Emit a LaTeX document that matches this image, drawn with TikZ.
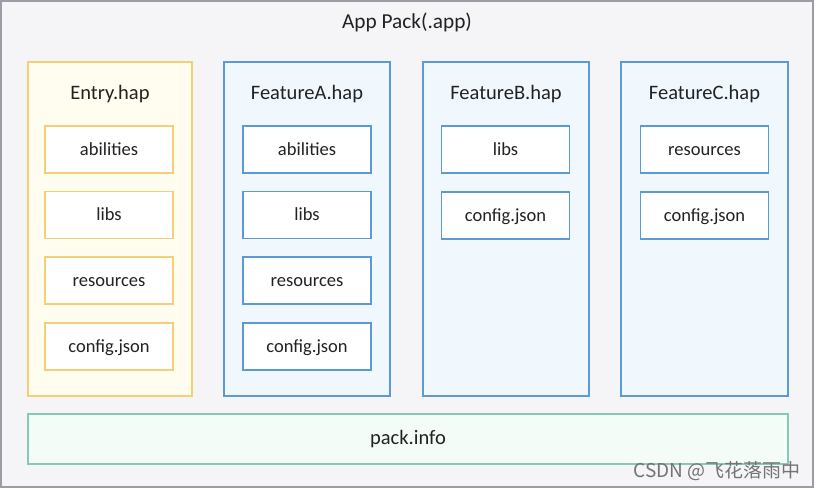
\documentclass[tikz,border=0pt]{standalone}
\usepackage{fontspec}
\setmainfont{Carlito}
\newfontfamily\cjkfont{Noto Sans CJK SC}
\definecolor{bgcol}{HTML}{F5F5F7}
\definecolor{framecol}{HTML}{9A9CA6}
\definecolor{entryline}{HTML}{F3CF78}
\definecolor{entryfill}{HTML}{FFFCF0}
\definecolor{featline}{HTML}{5B9BD5}
\definecolor{featfill}{HTML}{F0F8FE}
\definecolor{packline}{HTML}{86C9B4}
\definecolor{packfill}{HTML}{F4FCF8}
\definecolor{txt}{HTML}{222222}
\begin{document}
\begin{tikzpicture}[x=1pt,y=-1pt,
  every node/.style={text=txt},
  hapbox/.style={line width=1.2pt},
  entrybox/.style={hapbox,draw=entryline,fill=entryfill},
  featbox/.style={hapbox,draw=featline,fill=featfill},
  itemtext/.style={text height=1.4em,text depth=0.22em,font=\fontsize{18.5}{20}\selectfont},
  entryitem/.style={itemtext,draw=entryline,fill=white,line width=1.2pt,minimum width=128pt,minimum height=47pt,inner sep=0pt},
  featitem/.style={itemtext,draw=featline,fill=white,line width=1.2pt,minimum width=128pt,minimum height=47pt,inner sep=0pt},
  titletext/.style={font=\fontsize{20.5}{22}\selectfont,inner sep=0pt,text height=1.5em,text depth=0.22em}
]
\useasboundingbox (0,0) rectangle (815,490);
\draw[fill=bgcol,draw=framecol,line width=1.5pt] (1,1) rectangle (813,487);
\node[titletext,font=\fontsize{21.3}{23}\selectfont] (app) at (407,22) {App Pack(.app)};

% hap boxes
\draw[entrybox] (28,62) rectangle (192,396);
\draw[featbox] (224,62) rectangle (390,396);
\draw[featbox] (423,62) rectangle (589,396);
\draw[featbox] (621,62) rectangle (788,396);

\node[titletext] (entry) at (110,93) {Entry.hap};
\node[titletext] (fa) at (307,93) {FeatureA.hap};
\node[titletext] (fb) at (506,93) {FeatureB.hap};
\node[titletext] (fc) at (704.5,93) {FeatureC.hap};

% Entry items
\node[entryitem] (e1) at (109,149.5) {abilities};
\node[entryitem] (e2) at (109,215) {libs};
\node[entryitem] (e3) at (109,280.5) {resources};
\node[entryitem] (e4) at (109,346.5) {config.json};

% FeatureA items
\node[featitem] (a1) at (307,149.5) {abilities};
\node[featitem] (a2) at (307,215) {libs};
\node[featitem] (a3) at (307,280.5) {resources};
\node[featitem] (a4) at (307,346.5) {config.json};

% FeatureB items
\node[featitem] (b1) at (505.5,149.5) {libs};
\node[featitem] (b2) at (505.5,215.5) {config.json};

% FeatureC items
\node[featitem] (c1) at (704.5,149.5) {resources};
\node[featitem] (c2) at (704.5,215.5) {config.json};

% pack.info
\node[draw=packline,fill=packfill,line width=1.2pt,minimum width=760pt,minimum height=50pt,inner sep=0pt,text height=1.4em,text depth=0.22em,font=\fontsize{20.5}{22}\selectfont] (pack) at (408,439) {pack.info};

% watermark
\node[anchor=east,inner sep=0pt,text=black!55,font=\fontsize{19}{21}\selectfont\cjkfont] (wm) at (801,471) {CSDN @飞花落雨中};
\end{tikzpicture}
\end{document}
